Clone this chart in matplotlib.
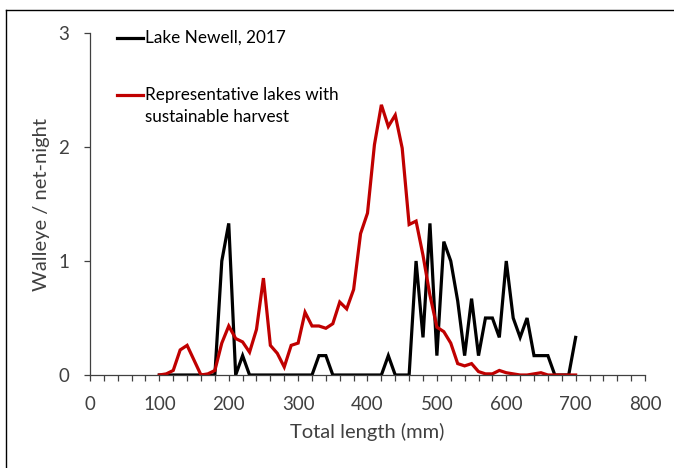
"""
Walleye length-frequency: Lake Newell vs representative lakes
"""
import matplotlib.pyplot as plt
from matplotlib.lines import Line2D

plt.rcParams['font.family'] = ['Lato', 'DejaVu Sans']

# total length bins (mm)
length_mm = list(range(100, 710, 10))

# Lake Newell, 2017 (walleye / net-night)
newell = [0, 0, 0, 0, 0, 0, 0, 0, 0, 1.0,          # 100-190
          1.33, 0, 0.17, 0, 0, 0, 0, 0, 0, 0,       # 200-290
          0, 0, 0, 0.17, 0.17, 0, 0, 0, 0, 0,       # 300-390
          0, 0, 0, 0.17, 0, 0, 0, 1.0, 0.33, 1.33,  # 400-490
          0.17, 1.17, 1.0, 0.65, 0.17, 0.67, 0.17, 0.5, 0.5, 0.33,  # 500-590
          1.0, 0.5, 0.33, 0.5, 0.17, 0.17, 0.17, 0, 0, 0,           # 600-690
          0.33]                                                     # 700

# representative lakes with sustainable harvest
representative = [0, 0.01, 0.04, 0.22, 0.26, 0.13, 0.0, 0.01, 0.04, 0.28,   # 100-190
                  0.43, 0.32, 0.29, 0.2, 0.4, 0.85, 0.26, 0.19, 0.07, 0.26,  # 200-290
                  0.28, 0.55, 0.43, 0.43, 0.41, 0.45, 0.64, 0.58, 0.75, 1.24,  # 300-390
                  1.42, 2.02, 2.37, 2.18, 2.28, 1.99, 1.32, 1.35, 1.05, 0.7,   # 400-490
                  0.42, 0.38, 0.28, 0.1, 0.08, 0.1, 0.03, 0.01, 0.01, 0.04,    # 500-590
                  0.02, 0.01, 0, 0, 0.01, 0.02, 0, 0, 0, 0,                    # 600-690
                  0]                                                           # 700

fig = plt.figure(figsize=(6.74, 4.68), dpi=100)
ax = fig.add_axes([0.1335, 0.1987, 0.8235, 0.7308])

red = '#C00000'
grey = '#404040'
ax.plot(length_mm, newell, color='black', lw=2.3, solid_joinstyle='miter')
ax.plot(length_mm, representative, color=red, lw=2.3, solid_joinstyle='miter')

ax.set_xlim(0, 800)
ax.set_ylim(0, 3)
ax.set_xticks(range(0, 801, 100))
ax.set_xticks(range(0, 801, 20), minor=True)
ax.set_yticks([0, 1, 2, 3])
ax.tick_params(axis='both', which='both', direction='out', labelsize=13.5,
               color=grey, width=0.9, length=4, labelcolor=grey)
ax.tick_params(axis='x', which='major', pad=11)
ax.tick_params(axis='y', which='major', pad=11)

for s in ['top', 'right']:
    ax.spines[s].set_visible(False)
for s in ['left', 'bottom']:
    ax.spines[s].set_color(grey)
    ax.spines[s].set_linewidth(0.9)

ax.set_xlabel('Total length (mm)', fontsize=14.5, color=grey, labelpad=7)
ax.set_ylabel('Walleye / net-night', fontsize=14.5, color=grey, labelpad=6)

# legend, placed in the upper left of the plot area like the original
ax.add_line(Line2D([39, 76], [2.956, 2.956], color='black', lw=2.3))
ax.text(80, 2.956, 'Lake Newell, 2017', fontsize=12.3, va='center', color='black')
ax.add_line(Line2D([39, 76], [2.456, 2.456], color=red, lw=2.3))
ax.text(80, 2.456, 'Representative lakes with', fontsize=12.3, va='center', color='black')
ax.text(80, 2.263, 'sustainable harvest', fontsize=12.3, va='center', color='black')

# frame edges of the original screenshot
fig.add_artist(Line2D([6 / 674, 1], [1 - 10 / 468, 1 - 10 / 468], color='black', lw=1))
fig.add_artist(Line2D([6 / 674, 6 / 674], [0, 1 - 10 / 468], color='black', lw=1))

fig.savefig('out.png', dpi=100)
